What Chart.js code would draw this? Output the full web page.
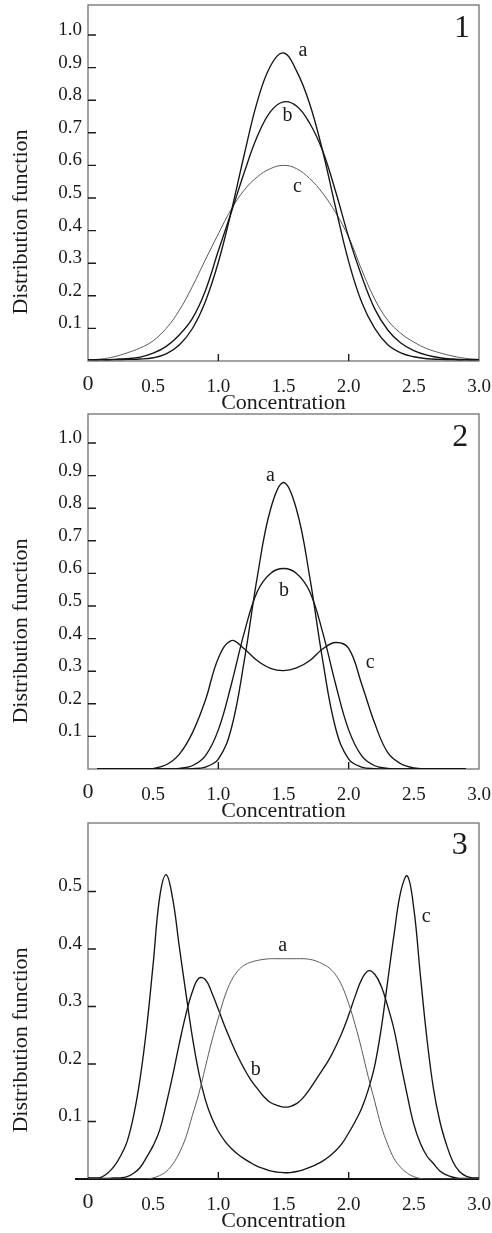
<!DOCTYPE html>
<html>
<head>
<meta charset="utf-8">
<script src="https://cdn.jsdelivr.net/npm/chart.js"></script>
<style>
html,body{margin:0;padding:0;background:#fff;}
body{position:relative;width:492px;height:1233px;overflow:hidden;}
canvas{position:absolute;left:0;}
</style>
</head>
<body>
<canvas id="c1" width="492" height="420" style="top:0px"></canvas>
<canvas id="c2" width="492" height="420" style="top:409px"></canvas>
<canvas id="c3" width="492" height="415" style="top:818px"></canvas>
<script>
// ---------- data ----------
const seriesNames = ['a', 'b', 'c'];
const xTickValues = [0, 0.5, 1, 1.5, 2, 2.5, 3];
const xTickLabels = ['0', '0.5', '1.0', '1.5', '2.0', '2.5', '3.0'];
const xMarkValues = [1, 2];
const yTickValuesTall = [0.1, 0.2, 0.3, 0.4, 0.5, 0.6, 0.7, 0.8, 0.9, 1.0];
const yTickLabelsTall = ['0.1', '0.2', '0.3', '0.4', '0.5', '0.6', '0.7', '0.8', '0.9', '1.0'];
const yTickValuesShort = [0.1, 0.2, 0.3, 0.4, 0.5];
const yTickLabelsShort = ['0.1', '0.2', '0.3', '0.4', '0.5'];

// Panel 1
const conc1 = [0, 0.1, 0.2, 0.3, 0.4, 0.5, 0.6, 0.7, 0.8, 0.9, 1.0, 1.1, 1.2, 1.3, 1.4, 1.5,
  1.6, 1.7, 1.8, 1.9, 2.0, 2.1, 2.2, 2.3, 2.4, 2.5, 2.6, 2.7, 2.8, 2.9, 3.0];
const p1a = [0.004, 0.004, 0.004, 0.005, 0.006, 0.01, 0.022, 0.049, 0.099, 0.182,
  0.303, 0.46, 0.635, 0.797, 0.905, 0.945, 0.89, 0.79, 0.645, 0.47,
  0.305, 0.18, 0.10, 0.05, 0.025, 0.013, 0.007, 0.005, 0.004, 0.004, 0.004];
const p1b = [0.004, 0.004, 0.005, 0.007, 0.012, 0.024, 0.045, 0.08, 0.13, 0.215,
  0.338, 0.457, 0.58, 0.69, 0.765, 0.795, 0.782, 0.73, 0.645, 0.52,
  0.38, 0.26, 0.16, 0.095, 0.055, 0.032, 0.018, 0.01, 0.006, 0.004, 0.004];
const p1c = [0.004, 0.006, 0.013, 0.025, 0.04, 0.062, 0.10, 0.155, 0.228, 0.31,
  0.39, 0.466, 0.525, 0.565, 0.59, 0.60, 0.59, 0.56, 0.515, 0.455,
  0.38, 0.28, 0.19, 0.125, 0.085, 0.058, 0.038, 0.025, 0.015, 0.008, 0.005];

// Panel 2
const conc2 = [0.07, 0.2, 0.3, 0.4, 0.5, 0.6, 0.7, 0.8, 0.9, 1.0, 1.1, 1.2, 1.3, 1.4, 1.5,
  1.6, 1.7, 1.8, 1.9, 2.0, 2.1, 2.2, 2.3, 2.4, 2.5, 2.6, 2.7, 2.8, 2.9];
const p2a = [0, 0, 0, 0, 0, 0, 0, 0.001, 0.006, 0.03, 0.125, 0.335, 0.592, 0.796, 0.879,
  0.796, 0.592, 0.335, 0.125, 0.03, 0.006, 0.001, 0, 0, 0, 0, 0, 0, 0];
const p2b = [0, 0, 0, 0, 0, 0, 0.002, 0.01, 0.04, 0.12, 0.26, 0.42, 0.545, 0.60, 0.615,
  0.60, 0.545, 0.42, 0.26, 0.12, 0.04, 0.01, 0.002, 0, 0, 0, 0, 0, 0];
const p2c = [0, 0, 0, 0, 0.002, 0.013, 0.045, 0.11, 0.21, 0.34, 0.394, 0.368, 0.332, 0.309, 0.302,
  0.31, 0.332, 0.368, 0.388, 0.37, 0.26, 0.14, 0.05, 0.016, 0.003, 0, 0, 0, 0];

// Panel 3
const conc3 = [0, 0.05, 0.1, 0.15, 0.2, 0.25, 0.3, 0.35, 0.4, 0.45,
  0.5, 0.55, 0.6, 0.65, 0.7, 0.75, 0.8, 0.85, 0.9, 0.95,
  1.0, 1.05, 1.1, 1.15, 1.2, 1.25, 1.3, 1.35, 1.4, 1.45,
  1.5, 1.55, 1.6, 1.65, 1.7, 1.75, 1.8, 1.85, 1.9, 1.95,
  2.0, 2.05, 2.1, 2.15, 2.2, 2.25, 2.3, 2.35, 2.4, 2.45,
  2.5, 2.55, 2.6, 2.65, 2.7, 2.75, 2.8, 2.85, 2.9, 2.95, 3.0];
const p3a = [0, 0, 0, 0, 0, 0, 0, 0, 0, 0,
  0.002, 0.006, 0.013, 0.026, 0.045, 0.072, 0.11, 0.148, 0.194, 0.24,
  0.28, 0.318, 0.345, 0.362, 0.372, 0.377, 0.38, 0.382, 0.383, 0.383,
  0.383, 0.383, 0.383, 0.383, 0.382, 0.379, 0.374, 0.367, 0.355, 0.335,
  0.305, 0.268, 0.225, 0.178, 0.135, 0.092, 0.06, 0.035, 0.02, 0.01,
  0.004, 0.001, 0, 0, 0, 0, 0, 0, 0, 0, 0];
const p3b = [0.001, 0.001, 0.001, 0.001, 0.002, 0.002, 0.004, 0.01, 0.02, 0.038,
  0.058, 0.085, 0.13, 0.18, 0.235, 0.285, 0.325, 0.349, 0.347, 0.324,
  0.295, 0.265, 0.238, 0.213, 0.191, 0.172, 0.157, 0.143, 0.133, 0.128,
  0.125, 0.126, 0.131, 0.141, 0.156, 0.173, 0.19, 0.208, 0.23, 0.255,
  0.285, 0.318, 0.347, 0.362, 0.356, 0.335, 0.3, 0.258, 0.2, 0.145,
  0.095, 0.062, 0.04, 0.027, 0.014, 0.007, 0.003, 0.001, 0.001, 0.001, 0.001];
const p3c = [0.002, 0.002, 0.003, 0.01, 0.022, 0.04, 0.065, 0.11, 0.175, 0.263,
  0.374, 0.49, 0.529, 0.487, 0.405, 0.325, 0.248, 0.185, 0.138, 0.106,
  0.083, 0.066, 0.053, 0.043, 0.035, 0.028, 0.022, 0.018, 0.014, 0.012,
  0.011, 0.011, 0.013, 0.016, 0.02, 0.025, 0.031, 0.039, 0.049, 0.062,
  0.08, 0.1, 0.123, 0.155, 0.197, 0.262, 0.345, 0.428, 0.5, 0.527,
  0.47, 0.355, 0.245, 0.158, 0.1, 0.06, 0.03, 0.013, 0.005, 0.002, 0.002];

// ---------- styling / layout ----------
const SERIF = "'Liberation Serif','Times New Roman',Times,serif";
const INK = '#1a1a1a';
const BLACK = {color: '#151515', width: 1.35};
const GRAY = {color: '#5a5a5a', width: 1.0};

const panels = [
  {id: 'c1', canvasH: 420, areaTop: 5, areaBottom: 361, yMax: 1.092, x: conc1, ys: [p1a, p1b, p1c],
   styles: [BLACK, BLACK, GRAY], yTicks: yTickValuesTall, yLabels: yTickLabelsTall, titlePad: 3.8,
   number: '1', numberAt: [2.87, 0.993], labelAt: [[1.65, 0.937], [1.53, 0.736], [1.607, 0.519]], axisExtend: false},
  {id: 'c2', canvasH: 420, areaTop: 5, areaBottom: 360, yMax: 1.089, x: conc2, ys: [p2a, p2b, p2c],
   styles: [BLACK, BLACK, BLACK], yTicks: yTickValuesTall, yLabels: yTickLabelsTall, titlePad: 4.8,
   number: '2', numberAt: [2.857, 0.99], labelAt: [[1.40, 0.883], [1.504, 0.530], [2.165, 0.311]], axisExtend: false},
  {id: 'c3', canvasH: 415, areaTop: 5, areaBottom: 361, yMax: 0.619, x: conc3, ys: [p3a, p3b, p3c],
   styles: [GRAY, BLACK, BLACK], yTicks: yTickValuesShort, yLabels: yTickLabelsShort, titlePad: -1,
   number: '3', numberAt: [2.853, 0.565], labelAt: [[1.494, 0.397], [1.287, 0.18], [2.595, 0.446]], axisExtend: true}
];

function makeDecor(p) {
  return {
    id: 'decor_' + p.id,
    beforeDatasetsDraw(chart) {
      const {ctx, chartArea: a, scales: {x, y}} = chart;
      ctx.save();
      ctx.strokeStyle = '#707070';
      ctx.lineWidth = 1.3;
      ctx.strokeRect(a.left, a.top, a.right - a.left, a.bottom - a.top);
      ctx.strokeStyle = INK;
      ctx.lineWidth = 1.4;
      ctx.beginPath();
      p.yTicks.forEach(v => {
        const py = y.getPixelForValue(v);
        ctx.moveTo(a.left, py);
        ctx.lineTo(a.left + 8, py);
      });
      xMarkValues.forEach(v => {
        const px = x.getPixelForValue(v);
        ctx.moveTo(px, a.bottom);
        ctx.lineTo(px, a.bottom - 7);
      });
      ctx.stroke();
      if (p.axisExtend) {
        ctx.strokeStyle = '#111';
        ctx.lineWidth = 2;
        ctx.beginPath();
        ctx.moveTo(75, a.bottom);
        ctx.lineTo(a.right, a.bottom);
        ctx.stroke();
      }
      ctx.restore();
    },
    afterDraw(chart) {
      const {ctx, chartArea: a, scales: {x, y}} = chart;
      ctx.save();
      ctx.fillStyle = INK;
      // y title
      ctx.save();
      ctx.translate(21, a.top + 217);
      ctx.rotate(-Math.PI / 2);
      ctx.font = '22px ' + SERIF;
      ctx.textAlign = 'center';
      ctx.textBaseline = 'middle';
      ctx.fillText('Distribution function', 0, 0);
      ctx.restore();
      // curve labels
      ctx.font = '20px ' + SERIF;
      ctx.textAlign = 'center';
      ctx.textBaseline = 'alphabetic';
      p.labelAt.forEach((pos, i) => {
        ctx.fillText(seriesNames[i], x.getPixelForValue(pos[0]), y.getPixelForValue(pos[1]));
      });
      // panel number
      ctx.font = '32px ' + SERIF;
      ctx.fillText(p.number, x.getPixelForValue(p.numberAt[0]), y.getPixelForValue(p.numberAt[1]));
      ctx.restore();
    }
  };
}

panels.forEach(p => {
  const ctx = document.getElementById(p.id);
  new Chart(ctx, {
    type: 'line',
    data: {
      datasets: p.ys.map((ys, i) => ({
        label: seriesNames[i],
        data: p.x.map((xv, j) => ({x: xv, y: ys[j]})),
        borderColor: p.styles[i].color,
        borderWidth: p.styles[i].width,
        pointRadius: 0,
        fill: false,
        tension: 0.4
      }))
    },
    options: {
      responsive: false,
      animation: false,
      devicePixelRatio: 1,
      events: [],
      layout: {padding: {left: 0, right: 13, top: p.areaTop, bottom: 0}},
      plugins: {legend: {display: false}, tooltip: {enabled: false}},
      scales: {
        x: {
          type: 'linear', min: 0, max: 3,
          grid: {display: false, drawTicks: false},
          border: {display: false},
          afterBuildTicks: s => { s.ticks = xTickValues.map(v => ({value: v})); },
          ticks: {
            padding: 15, color: INK, maxRotation: 0, autoSkip: false,
            font: c => (c.index === 0 ? {family: SERIF, size: 22, lineHeight: 0.72}
                                       : {family: SERIF, size: 19, lineHeight: 1.2}),
            callback: (v, i) => xTickLabels[i]
          },
          title: {
            display: true, text: 'Concentration', color: INK,
            font: {family: SERIF, size: 22},
            padding: {top: 0, bottom: p.titlePad}
          },
          afterFit: s => {
            s.height = p.canvasH - p.areaBottom;
            s.paddingLeft = 0; s.paddingRight = 0;
          }
        },
        y: {
          type: 'linear', min: 0, max: p.yMax,
          grid: {display: false, drawTicks: false},
          border: {display: false},
          afterBuildTicks: s => { s.ticks = p.yTicks.map(v => ({value: v})); },
          ticks: {
            padding: 6, labelOffset: -5, color: INK,
            font: {family: SERIF, size: 19},
            callback: (v, i) => p.yLabels[i]
          },
          afterFit: s => {
            s.width = 88;
            s.paddingTop = 0; s.paddingBottom = 0;
          }
        }
      }
    },
    plugins: [makeDecor(p)]
  });
});
</script>
</body>
</html>
